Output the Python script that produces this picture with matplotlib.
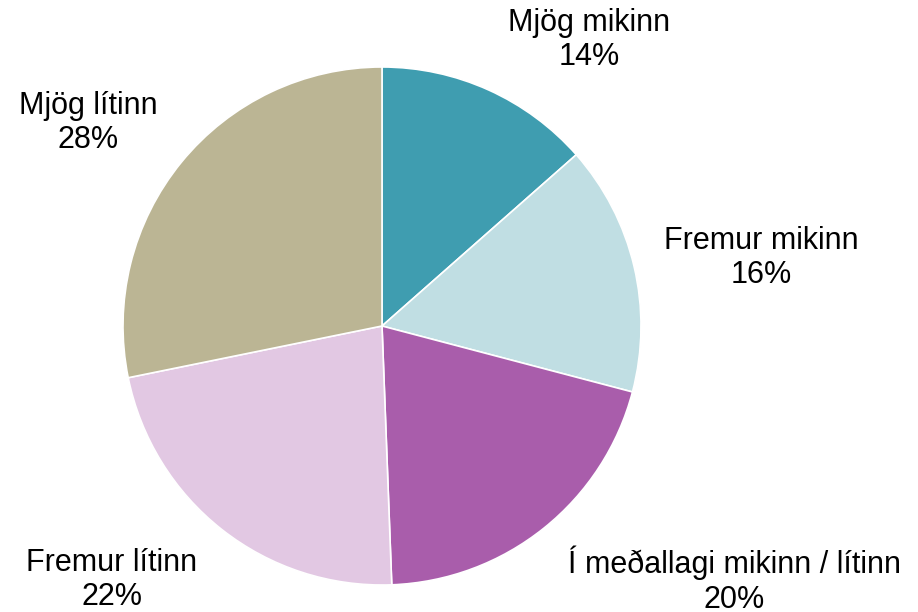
import matplotlib.pyplot as plt

# data (shares; labels show them rounded)
categories = ['Mjög mikinn', 'Fremur mikinn', 'Í meðallagi mikinn / lítinn',
              'Fremur lítinn', 'Mjög lítinn']
shares = [13.5, 15.6, 20.3, 22.4, 28.2]
colors = ['#3F9DB0', '#C0DEE3', '#A95DAB', '#E2C8E3', '#BBB594']

# label centres in pixel coords (x from left, y from top)
label_pos = [(589, 40), (761, 258), (734, 580), (112, 580), (88, 123)]

plt.rcParams['font.family'] = ['Liberation Sans', 'DejaVu Sans']

W, H = 918, 612
fig = plt.figure(figsize=(W / 100, H / 100), dpi=100)
ax = fig.add_axes([0, 0, 1, 1])

ax.pie(shares, colors=colors, startangle=90, counterclock=False,
       center=(382, H - 326), radius=259, frame=True,
       wedgeprops=dict(edgecolor='white', linewidth=1.2))
ax.set_xlim(0, W)
ax.set_ylim(0, H)
ax.set_aspect('equal')
ax.axis('off')

for cat, s, (x, y) in zip(categories, shares, label_pos):
    ax.text(x, H - y, f'{cat}\n{s:.0f}%', ha='center', va='center',
            fontsize=22, color='black', linespacing=1.2)

fig.savefig('out.png', dpi=100)
